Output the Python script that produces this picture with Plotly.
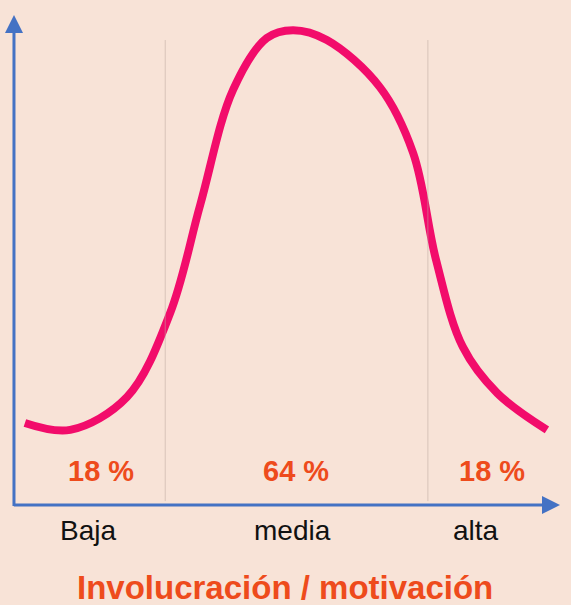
import plotly.graph_objects as go

# Involvement curve (relative frequency vs. level of involvement)
curve_x = [0.20, 1.03, 2.07, 2.86, 3.41, 4.01, 4.63, 5.11, 5.73, 6.70, 7.31, 7.73, 8.22, 8.85, 9.76]
curve_y = [1.69, 1.55, 2.22, 3.93, 6.13, 8.47, 9.53, 9.69, 9.49, 8.53, 7.19, 5.01, 3.24, 2.30, 1.55]

# Segment boundaries and labels
dividers = [2.77, 7.58]
categories = ["Baja", "media", "alta"]
category_x = [1.35, 5.10, 8.46]
shares = ["18 %", "64 %", "18 %"]
share_x = [1.59, 5.17, 8.75]
axis_title = "Involucración / motivación"

BG = "#F8E3D7"
PINK = "#F20C6B"
ORANGE = "#EE4B1C"
BLUE = "#4472C4"
FONT = "Liberation Sans, Arial, sans-serif"

fig = go.Figure()
fig.add_trace(go.Scatter(
    x=curve_x, y=curve_y, mode="lines",
    line=dict(color=PINK, width=8, shape="spline", smoothing=1.0),
    hoverinfo="skip", showlegend=False,
))

shapes = []
for d in dividers:
    shapes.append(dict(type="line", xref="x", yref="y", x0=d, x1=d, y0=0.1, y1=9.49,
                       line=dict(color="rgba(190,170,160,0.55)", width=1)))

annotations = []
# axes with arrowheads
annotations.append(dict(x=0, y=10.0, ax=0, ay=-0.03, xref="x", yref="y", axref="x", ayref="y",
                        showarrow=True, arrowhead=2, arrowsize=1.2, arrowwidth=3,
                        arrowcolor=BLUE, text=""))
annotations.append(dict(x=10.0, y=0.02, ax=-0.03, ay=0.02, xref="x", yref="y", axref="x", ayref="y",
                        showarrow=True, arrowhead=2, arrowsize=1.2, arrowwidth=3,
                        arrowcolor=BLUE, text=""))
for sx, s in zip(share_x, shares):
    annotations.append(dict(x=sx, y=0.72, xref="x", yref="y", text=f"<b>{s}</b>",
                            showarrow=False, font=dict(family=FONT, size=29, color=ORANGE)))
for cx, c in zip(category_x, categories):
    annotations.append(dict(x=cx, y=-0.49, xref="x", yref="y", text=c,
                            showarrow=False, font=dict(family=FONT, size=28, color="#111111")))
annotations.append(dict(x=4.96, y=-1.65, xref="x", yref="y", text=f"<b>{axis_title}</b>",
                        showarrow=False, font=dict(family=FONT, size=33, color=ORANGE)))

fig.update_layout(
    width=571, height=605,
    margin=dict(l=0, r=0, t=0, b=0),
    paper_bgcolor=BG, plot_bgcolor=BG,
    xaxis=dict(range=[-0.256, 10.201], visible=False, fixedrange=True),
    yaxis=dict(range=[-2.016, 10.305], visible=False, fixedrange=True),
    shapes=shapes, annotations=annotations,
    showlegend=False,
)

fig.write_html("out.html")
